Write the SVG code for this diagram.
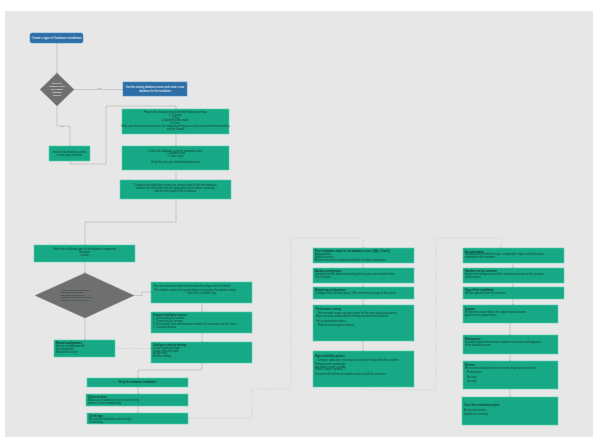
<svg xmlns="http://www.w3.org/2000/svg" width="600" height="440" viewBox="0 0 600 440">
<defs>
<marker id="ar" viewBox="0 0 6 6" refX="5" refY="3" markerWidth="3" markerHeight="3" orient="auto"><path d="M0,0 L6,3 L0,6 z" fill="#8a8a8a"/></marker>
<style>
.bg{fill:#e7e7e7}
.g{fill:#17a885;stroke:#56d2ad;stroke-width:0.6}
.b{fill:#2d6ea6;stroke:#4a8fc7;stroke-width:0.6}
.d{fill:#6f6f6f;stroke:#8a8a8a;stroke-width:0.5}
.c{fill:none;stroke:#a6a6a6;stroke-width:0.5;marker-end:url(#ar)}
.dc{fill:none;stroke:#bdbdbd;stroke-width:0.5;stroke-dasharray:1.5 1.5;marker-end:url(#ar)}
text{font-family:"Liberation Sans",Arial,sans-serif;font-size:2.6px;fill:#123d31}
.w{fill:#ffffff}
.m{text-anchor:middle}
.h{font-weight:bold}
.lb{font-size:2.4px;fill:#777777;text-anchor:middle}
</style>
</defs>
<rect x="0" y="0" width="600" height="440" fill="#ffffff"/>
<rect class="bg" x="5" y="11" width="588" height="426"/>

<g id="connectors">
<path class="c" d="M57,43 V73"/>
<path class="c" d="M74,89.5 H123"/>
<text class="lb" x="99" y="89">Yes</text>
<path class="c" d="M57,106 V126 H70 V146"/>
<text class="lb" x="62" y="127">No</text>
<path class="c" d="M70,161 V164 H106 V106 H176 V109"/>
<path class="c" d="M176,134 V146"/>
<path class="c" d="M176,170 V180"/>
<path class="c" d="M176,199 V222 H85 V245"/>
<path class="c" d="M85,262 V273"/>
<path class="c" d="M134,295.5 H142 V292 H151"/>
<path class="c" d="M202,303 V312"/>
<path class="c" d="M202,333 V342"/>
<path class="c" d="M85,318 V340"/>
<path class="dc" d="M115,348.5 H151"/>
<path class="c" d="M202,363 V370 H138 V378"/>
<path class="c" d="M138,387 V394"/>
<path class="c" d="M138,406 V413"/>
<path class="dc" d="M188,418 H252 V389 H291 V238 H363 V248"/>
<path class="c" d="M363,263 V268"/>
<path class="c" d="M363,283 V287"/>
<path class="c" d="M363,299 V305"/>
<path class="c" d="M363,341 V351"/>
<path class="dc" d="M363,387 V390 H436 V238 H501 V248"/>
<path class="c" d="M513,263 V268"/>
<path class="c" d="M513,283 V287"/>
<path class="c" d="M513,299 V305"/>
<path class="c" d="M510,323 V335"/>
<path class="c" d="M510,354 V361"/>
<path class="c" d="M510,389 V397"/>
</g>

<g id="start">
<rect class="b" x="30" y="33" width="53" height="10" rx="2"/>
<text class="w m" x="56.5" y="39" style="font-size:3px">Create a type of Database installation</text>
</g>

<g id="decision1">
<polygon class="d" points="57,73 74,89.5 57,106 40,89.5"/>
<text class="w m" x="57" y="84" style="font-size:2.4px"><tspan x="57">Does the</tspan><tspan x="57" dy="3">customer have</tspan><tspan x="57" dy="3">an existing</tspan><tspan x="57" dy="3">database</tspan><tspan x="57" dy="3">server?</tspan></text>
</g>

<g id="existing">
<rect class="b" x="123" y="82" width="64" height="14"/>
<text class="w m" x="155" y="88.3"><tspan x="155">Use the existing database server and create a new</tspan><tspan x="155" dy="3.2">database for the installation</tspan></text>
</g>

<g id="newserver">
<rect class="g" x="49" y="146" width="41" height="15"/>
<text class="m" x="69.5" y="152.8"><tspan x="69.5">Install a new database server</tspan><tspan x="69.5" dy="3">on the target machine</tspan></text>
</g>

<g id="prepare">
<rect class="g" x="122" y="109" width="107" height="25"/>
<text class="m" x="175.5" y="112.7"><tspan x="175.5">Prepare the database server with the following settings:</tspan><tspan x="175.5" dy="2.9">1. Collation</tspan><tspan x="175.5" dy="2.9">2. Port</tspan><tspan x="175.5" dy="2.9">3. Authentication mode</tspan><tspan x="175.5" dy="2.9">4. Users</tspan><tspan x="175.5" dy="2.9">Make sure the service account has the required permissions on the server and the data folders</tspan><tspan x="175.5" dy="2.9">and the firewall</tspan></text>
</g>

<g id="createdb">
<rect class="g" x="122" y="146" width="107" height="24"/>
<text class="m" x="175.5" y="151.5"><tspan x="175.5">Create the database using the provided scripts</tspan><tspan x="175.5" dy="2.9">1. Schema script</tspan><tspan x="175.5" dy="2.9">2. Data script</tspan><tspan x="175.5" dy="5.8">Verify that all scripts finished without errors</tspan></text>
</g>

<g id="connection">
<rect class="g" x="120" y="180" width="111" height="19"/>
<text class="m" x="175.5" y="186"><tspan x="175.5">Configure the application connection string to point to the new database</tspan><tspan x="175.5" dy="3.2">and test the connection from the application server before continuing</tspan><tspan x="175.5" dy="3.2">with the next steps of the installation</tspan></text>
</g>

<g id="insttype">
<rect class="g" x="34" y="245" width="101" height="17"/>
<text class="m" x="84.5" y="249.5"><tspan x="84.5">Select the installation type for the database component</tspan><tspan x="84.5" dy="3">Standard</tspan><tspan x="84.5" dy="3">Custom</tspan></text>
</g>

<g id="decision2">
<polygon class="d" points="85,273 134,295.5 85,318 35,295.5"/>
<text x="61" y="290.5" style="font-size:2.3px"><tspan x="61">Is this a standard installation</tspan><tspan x="61" dy="2.6">with default settings?</tspan><tspan x="61" dy="2.6">Standard: use defaults</tspan><tspan x="61" dy="2.6">Custom: configure each option</tspan><tspan x="61" dy="2.6">manually before continuing</tspan></text>
</g>

<g id="standard">
<rect class="g" x="151" y="282" width="101" height="21"/>
<text x="154" y="287"><tspan x="154">Run the standard installer with the default configuration file    Default</tspan><tspan x="154" dy="3.5">The installer creates all required objects and applies the default settings</tspan><tspan x="201.5" dy="3.5" class="m">Check the installation log</tspan></text>
</g>

<g id="custom">
<rect class="g" x="151" y="312" width="101" height="21"/>
<text x="153" y="316"><tspan x="153" class="h">Custom installation options</tspan><tspan x="153" dy="2.9">1. Choose data file location</tspan><tspan x="153" dy="2.9">2. Choose log file location</tspan><tspan x="153" dy="2.9">3. Set memory limits and maximum number of connections for the server</tspan><tspan x="153" dy="2.9">4. Configure backup</tspan></text>
</g>

<g id="security">
<rect class="g" x="151" y="342" width="101" height="21"/>
<text x="153" y="346"><tspan x="153" class="h">Configure security settings</tspan><tspan x="153" dy="2.8">Create application login</tspan><tspan x="153" dy="2.8">Create read-only login</tspan><tspan x="153" dy="2.8">Assign roles</tspan><tspan x="153" dy="2.8">Enable auditing</tspan></text>
</g>

<g id="manual">
<rect class="g" x="54" y="340" width="61" height="17"/>
<text x="56" y="344"><tspan x="56" class="h">Manual configuration</tspan><tspan x="56" dy="3">Edit the configuration file</tspan><tspan x="56" dy="3">Set parameters</tspan><tspan x="56" dy="3">Restart the service</tspan></text>
</g>

<g id="verify">
<rect class="g" x="87" y="378" width="101" height="9"/>
<text class="m h" x="137.5" y="383.4">Verify the database installation</text>
</g>

<g id="services">
<rect class="g" x="86" y="394" width="102" height="12"/>
<text x="88" y="398"><tspan x="88" class="h">Check services</tspan><tspan x="88" dy="2.9">Make sure all database services are running</tspan><tspan x="88" dy="2.9">and set to start automatically</tspan></text>
</g>

<g id="logs">
<rect class="g" x="87" y="413" width="101" height="11"/>
<text x="89" y="417"><tspan x="89" class="h">Check logs</tspan><tspan x="89" dy="2.9">Review the installation and error logs</tspan><tspan x="89" dy="2.9">for warnings</tspan></text>
</g>

<g id="post">
<rect class="g" x="313" y="248" width="101" height="15"/>
<text x="315" y="252"><tspan x="315" class="h">Post installation steps for the database server  (SQL / Oracle)</tspan><tspan x="315" dy="2.9">Apply patches</tspan><tspan x="315" dy="2.9">Update statistics</tspan><tspan x="315" dy="2.9">Review the server configuration and the installed components</tspan></text>
</g>

<g id="backup">
<rect class="g" x="313" y="268" width="101" height="15"/>
<text x="315" y="272"><tspan x="315" class="h">Backup configuration</tspan><tspan x="315" dy="3.2">Configure the full, differential and log backup jobs and schedule them</tspan><tspan x="315" dy="3.2">Test a restore</tspan></text>
</g>

<g id="monitoring">
<rect class="g" x="313" y="287" width="101" height="12"/>
<text x="315" y="291"><tspan x="315" class="h">Monitoring configuration</tspan><tspan x="315" dy="3.2">Configure alerts for disk space, CPU and memory usage on the server</tspan></text>
</g>

<g id="tuning">
<rect class="g" x="313" y="305" width="101" height="36"/>
<text x="316" y="310"><tspan x="316" class="h">Performance tuning</tspan><tspan x="318" dy="4">Review index usage and query plans for the main application queries</tspan><tspan x="316" dy="3.3">Adjust memory and parallelism settings based on the workload</tspan><tspan x="316" dy="4.5">Set up maintenance plans</tspan><tspan x="318" dy="4">Rebuild and reorganize indexes</tspan></text>
</g>

<g id="ha">
<rect class="g" x="313" y="351" width="101" height="36"/>
<text x="315" y="357"><tspan x="315" class="h">High availability options</tspan><tspan x="317" dy="3.5">Configure replication, mirroring or clustering if required by the customer</tspan><tspan x="315" dy="4.2">Primary server: production</tspan><tspan x="315" dy="2.8">Secondary server: standby</tspan><tspan x="315" dy="2.8">Witness server: optional</tspan><tspan x="315" dy="4.2">Document the failover procedure and test it with the customer</tspan></text>
</g>

<g id="documentation">
<rect class="g" x="463" y="248" width="101" height="15"/>
<text x="465" y="252.5"><tspan x="465" class="h">Documentation</tspan><tspan x="465" dy="2.9">Document the installed version, configuration, logins and the backup</tspan><tspan x="465" dy="2.9">schedule for the customer</tspan></text>
</g>

<g id="handover">
<rect class="g" x="463" y="268" width="101" height="15"/>
<text x="465" y="272"><tspan x="465" class="h">Handover to the customer</tspan><tspan x="465" dy="3.2">Explain the configuration and the maintenance tasks to the customer</tspan><tspan x="465" dy="3.2">administrators</tspan></text>
</g>

<g id="signoff">
<rect class="g" x="463" y="287" width="101" height="12"/>
<text x="465" y="291"><tspan x="465" class="h">Sign off the installation</tspan><tspan x="465" dy="3">Get the approval from the customer</tspan></text>
</g>

<g id="support">
<rect class="g" x="463" y="305" width="95" height="18"/>
<text x="465" y="310"><tspan x="465" class="h">Support</tspan><tspan x="465" dy="3.2">Provide the contact details for support and escalation</tspan><tspan x="465" dy="3.2">Agree on the support hours</tspan></text>
</g>

<g id="maintenance">
<rect class="g" x="463" y="335" width="95" height="19"/>
<text x="465" y="339.5"><tspan x="465" class="h">Maintenance</tspan><tspan x="465" dy="3.2">Schedule regular maintenance windows for patches and upgrades</tspan><tspan x="465" dy="3.2">of the database server</tspan></text>
</g>

<g id="review">
<rect class="g" x="463" y="361" width="95" height="28"/>
<text x="465" y="365.5"><tspan x="465" class="h">Review</tspan><tspan x="465" dy="3.2">Review the installation after one month of operation and check</tspan><tspan x="467" dy="4.5">Performance</tspan><tspan x="467" dy="4.5">Backups</tspan><tspan x="467" dy="4.5">Security</tspan></text>
</g>

<g id="close">
<rect class="g" x="462" y="397" width="96" height="28"/>
<text x="464" y="406"><tspan x="464" class="h">Close the installation project</tspan><tspan x="464" dy="4.5">Archive documents</tspan><tspan x="464" dy="4">Update the inventory</tspan></text>
</g>
</svg>
